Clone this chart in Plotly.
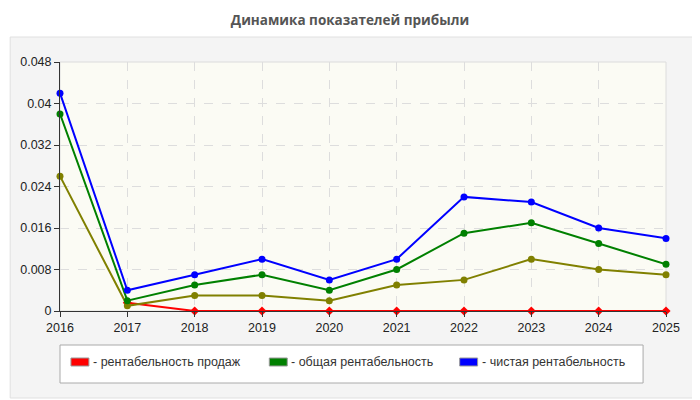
import plotly.graph_objects as go

years = [2016, 2017, 2018, 2019, 2020, 2021, 2022, 2023, 2024, 2025]

# рентабельность продаж (no value for 2016)
sales_margin = [None, 0.0016, 0, 0, 0, 0, 0, 0, 0, 0]
# unnamed olive series
olive_margin = [0.026, 0.001, 0.003, 0.003, 0.002, 0.005, 0.006, 0.010, 0.008, 0.007]
# общая рентабельность
total_margin = [0.038, 0.002, 0.005, 0.007, 0.004, 0.008, 0.015, 0.017, 0.013, 0.009]
# чистая рентабельность
net_margin = [0.042, 0.004, 0.007, 0.010, 0.006, 0.010, 0.022, 0.021, 0.016, 0.014]

legend_labels = ["- рентабельность продаж", "- общая рентабельность", "- чистая рентабельность"]
legend_colors = ["#ff0000", "#008000", "#0000ff"]

y_ticks = [0, 0.008, 0.016, 0.024, 0.032, 0.04, 0.048]

# page body has an 8px margin, so work in window pixels and shift
OFF = 8
W, H = 700 - OFF, 400 - OFF
L, T = 58 - OFF, 62 - OFF
R = 700 - 666
B = 400 - 311
pw, ph = W - L - R, H - T - B

def px(x):
    return (x - OFF - L) / pw

def py(y):
    return (H - B - (y - OFF)) / ph

fig = go.Figure()

def add_series(vals, color, symbol):
    fig.add_trace(go.Scatter(
        x=years, y=vals, mode="lines+markers",
        line=dict(color=color, width=2),
        marker=dict(color=color, size=7, symbol=symbol),
        cliponaxis=False, showlegend=False, connectgaps=False,
    ))

add_series(sales_margin, "#ff0000", "diamond")
add_series(olive_margin, "#808000", "circle")
add_series(total_margin, "#008000", "circle")
add_series(net_margin, "#0000ff", "circle")

shapes = []
# grey panel behind the chart
shapes.append(dict(type="rect", xref="paper", yref="paper", layer="below",
                   x0=px(OFF), x1=px(698), y0=py(398), y1=py(37),
                   fillcolor="#f4f4f4", line=dict(color="#e0e0e0", width=1)))
# plot area
shapes.append(dict(type="rect", xref="paper", yref="paper", layer="below",
                   x0=0, x1=1, y0=0, y1=1,
                   fillcolor="#fbfbf4", line=dict(color="#dcdcdc", width=1)))
# legend box
shapes.append(dict(type="rect", xref="paper", yref="paper",
                   x0=px(58), x1=px(643), y0=py(383), y1=py(345),
                   fillcolor="#ffffff", line=dict(color="#aaaaaa", width=1)))

annotations = []
swatch_x = [69, 268, 459]
for sx, lab, col in zip(swatch_x, legend_labels, legend_colors):
    shapes.append(dict(type="rect", xref="paper", yref="paper",
                       x0=px(sx), x1=px(sx + 18), y0=py(366), y1=py(358),
                       fillcolor=col, line=dict(color="#999999", width=1)))
    annotations.append(dict(xref="paper", yref="paper", x=px(sx + 20), y=py(362),
                            text=lab, showarrow=False, xanchor="left", yanchor="middle",
                            font=dict(family="Liberation Sans, Arial", size=12.5, color="#333333")))

fig.update_layout(
    width=W, height=H,
    margin=dict(l=L, r=R, t=T, b=B),
    paper_bgcolor="#ffffff",
    plot_bgcolor="rgba(0,0,0,0)",
    title=dict(text="<b>Динамика показателей прибыли</b>", xref="container",
               x=(350 - OFF) / W, y=1 - (20 - OFF) / H, yanchor="middle", xanchor="center",
               font=dict(family="Open Sans", size=13.5, color="#555555")),
    font=dict(family="Liberation Sans, Arial", size=12.5, color="#222222"),
    shapes=shapes,
    annotations=annotations,
)

fig.update_xaxes(range=[2016, 2025], tickvals=years, showline=True, linecolor="#333333",
                 ticks="outside", ticklen=5, tickcolor="#333333",
                 showgrid=True, gridcolor="#dddddd", griddash="dash", zeroline=False)
fig.update_yaxes(range=[0, 0.048], tickvals=y_ticks, showline=True, linecolor="#333333",
                 ticks="outside", ticklen=5, tickcolor="#333333",
                 showgrid=True, gridcolor="#dddddd", griddash="dash", zeroline=False)

fig.write_html("out.html")
